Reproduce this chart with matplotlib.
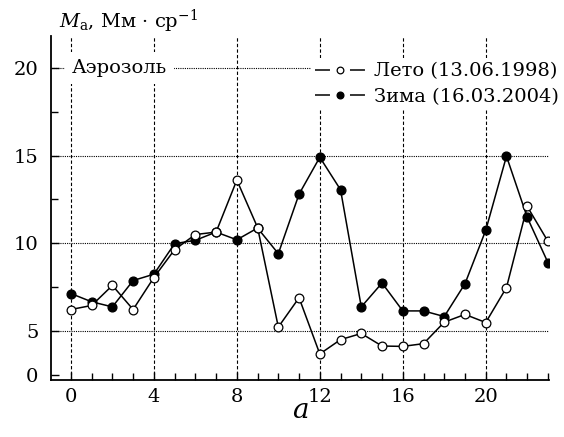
import numpy as np
import matplotlib
matplotlib.use("Agg")
import matplotlib.pyplot as plt
from matplotlib.lines import Line2D
from matplotlib.ticker import FixedLocator, NullFormatter

plt.rcParams['font.family'] = ['DejaVu Serif']
plt.rcParams['mathtext.fontset'] = 'custom'
plt.rcParams['mathtext.rm'] = 'DejaVu Serif'
plt.rcParams['mathtext.it'] = 'DejaVu Serif:italic'

hours = list(range(24))
summer = [6.23, 6.46, 7.6, 6.23, 8.05, 9.64, 10.5, 10.64, 13.6, 10.9, 5.23, 6.9,
          2.4, 4.03, 4.73, 3.3, 3.26, 3.57, 5.51, 5.95, 5.49, 7.48, 12.1, 10.11]
winter = [7.14, 6.67, 6.38, 7.88, 8.24, 9.98, 10.17, 10.64, 10.2, 10.87, 9.41, 12.8,
          14.9, 13.05, 6.38, 7.74, 6.15, 6.15, 5.83, 7.7, 10.74, 14.96, 11.48, 8.9]
summer_label = 'Лето (13.06.1998)'
winter_label = 'Зима (16.03.2004)'
xticks = [0, 4, 8, 12, 16, 20]
yticks = [0, 5, 10, 15, 20]


# y axis squeezed below 5 (0..5 takes half the room)
def fwd(y):
    y = np.asarray(y, dtype=float)
    return np.where(y >= 5, y, 2.5 + y / 2.0)


def inv(t):
    t = np.asarray(t, dtype=float)
    return np.where(t >= 5, t, (t - 2.5) * 2.0)


fig = plt.figure(figsize=(5.64, 4.37), dpi=100)
ax = fig.add_axes([0.0904, 0.1304, 0.883, 0.787])
ax.set_yscale('function', functions=(fwd, inv))

for x in xticks:
    ax.axvline(x, color='k', lw=0.8, ls=(0, (3, 2)), zorder=1)
for y in yticks[1:]:
    ax.axhline(y, color='k', lw=0.8, ls=(0, (1, 1)), zorder=1)

ax.plot(hours, summer, '-o', color='k', lw=1.1, ms=6.3, mfc='white', mec='k',
        mew=0.9, zorder=4)
ax.plot(hours, winter, '-o', color='k', lw=1.1, ms=6.3, mfc='k', mec='k',
        zorder=3)

ax.set_xlim(-0.96, 23.05)
ax.set_ylim(-0.57, 21.8)
ax.xaxis.set_major_locator(FixedLocator(xticks))
ax.xaxis.set_minor_locator(FixedLocator(hours))
ax.yaxis.set_major_locator(FixedLocator(yticks))
ax.yaxis.set_minor_locator(FixedLocator([7.5, 12.5, 17.5]))
ax.yaxis.set_minor_formatter(NullFormatter())
ax.set_yticklabels([str(v) for v in yticks])
ax.tick_params(which='both', direction='in', labelsize=14, width=1)
ax.tick_params(which='major', length=6)
ax.tick_params(which='minor', length=5)
ax.tick_params(axis='x', pad=6)
ax.tick_params(axis='y', pad=9)
for s in ['top', 'right']:
    ax.spines[s].set_visible(False)
for s in ['left', 'bottom']:
    ax.spines[s].set_linewidth(1.3)

ax.text(0.05, 20.0, 'Аэрозоль', fontsize=14, va='center', ha='left', zorder=2,
        bbox=dict(facecolor='white', edgecolor='none', pad=5))

# legend handles: line broken around the marker
seg = (0, (9.8, 13.1, 9.8, 100))
h_sum = (Line2D([], [], color='k', lw=1.1, ls=seg),
         Line2D([], [], ls='none', marker='o', ms=4.8, mfc='white', mec='k', mew=0.9))
h_win = (Line2D([], [], color='k', lw=1.1, ls=seg),
         Line2D([], [], ls='none', marker='o', ms=4.8, mfc='k', mec='k'))
leg = ax.legend([h_sum, h_win], [summer_label, winter_label],
                loc='upper right', bbox_to_anchor=(1.028, 0.935), fontsize=14,
                frameon=True, framealpha=1, edgecolor='none', facecolor='white',
                handlelength=2.57, handletextpad=0.46, borderpad=0.2,
                labelspacing=0.4, borderaxespad=0.0, fancybox=False)
leg.set_zorder(2)

fig.text(0.105, 0.95, r'$M_{\mathrm{а}}$, Мм · ср$^{-1}$', fontsize=14,
         ha='left', va='center')
fig.text(0.532, 0.06, 'a', fontsize=20, style='italic', ha='center', va='center')

fig.savefig('out.png', dpi=100)
